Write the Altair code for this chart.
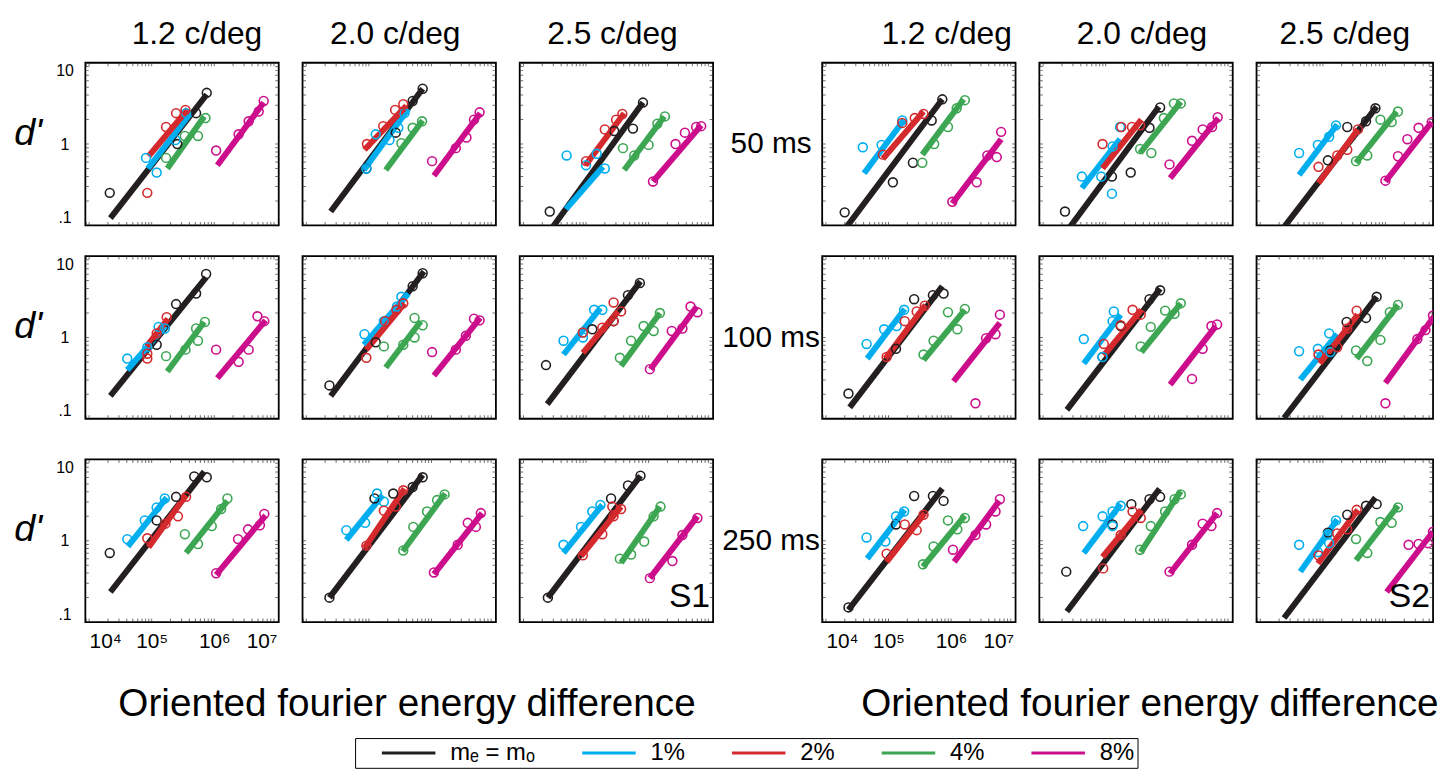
import altair as alt
import pandas as pd

FONT = "Liberation Sans, Arial, Helvetica, sans-serif"

SERIES = ["mₑ = mₒ", "1%", "2%", "4%", "8%"]
SERIES_KEYS = ["k", "c", "r", "g", "m"]
COLORS = ["#231f20", "#00aeef", "#d42a2e", "#3da653", "#cc0e8c"]
SUBJECTS = ["S1", "S2"]
DURATIONS = ["50 ms", "100 ms", "250 ms"]
FREQUENCIES = ["1.2 c/deg", "2.0 c/deg", "2.5 c/deg"]
X_TICKS = [1e4, 1e5, 1e6, 1e7]
X_TICK_LABELS = ["10⁴", "10⁵", "10⁶", "10⁷"]
Y_TICKS = [0.1, 1, 10]
Y_TICK_LABELS = [".1", "1", "10"]
X_TITLE = "Oriented fourier energy difference"
Y_TITLE = "d'"
# minor tick marks along the frame (mantissas 1..9 of each decade)
X_MINOR = [k * 10 ** d for d in (3, 4, 5, 6) for k in range(1, 10)]
Y_MINOR = [k * 10 ** d for d in (-1, 0) for k in range(1, 10)] + [10]

# values in log10 units: points [(log10 energy, log10 d')], fit line (x0, y0, x1, y1)
S1_50_12 = {
    "k": ([(4.33, -0.60), (5.41, 0.00), (5.71, 0.38), (5.88, 0.63)], (4.34, -0.91, 5.88, 0.61)),
    "c": ([(4.91, -0.17), (5.08, -0.35), (5.38, 0.05), (5.55, 0.38)], (4.94, -0.30, 5.62, 0.38)),
    "r": ([(4.93, -0.60), (5.23, 0.21), (5.39, 0.38), (5.54, 0.42)], (4.95, -0.15, 5.58, 0.43)),
    "g": ([(5.23, -0.17), (5.53, 0.10), (5.74, 0.10), (5.86, 0.32)], (5.25, -0.30, 5.84, 0.34)),
    "m": ([(6.03, -0.08), (6.39, 0.12), (6.55, 0.28), (6.71, 0.40), (6.79, 0.53)], (6.05, -0.26, 6.79, 0.51)),
}
S1_50_20 = {
    "k": ([(4.96, -0.30), (5.43, 0.14), (5.70, 0.53), (5.86, 0.68)], (4.39, -0.83, 5.86, 0.68)),
    "c": ([(4.96, -0.30), (5.11, 0.12), (5.33, 0.05), (5.47, 0.20), (5.57, 0.38)], (4.92, -0.32, 5.63, 0.43)),
    "r": ([(4.97, 0.00), (5.23, 0.22), (5.42, 0.42), (5.55, 0.49)], (4.93, -0.07, 5.60, 0.47)),
    "g": ([(5.52, 0.01), (5.70, 0.20), (5.85, 0.28)], (5.27, -0.32, 5.86, 0.29)),
    "m": ([(6.01, -0.21), (6.39, -0.05), (6.56, 0.08), (6.68, 0.30), (6.77, 0.39)], (6.04, -0.39, 6.78, 0.38)),
}
S1_50_25 = {
    "k": ([(4.42, -0.83), (5.45, 0.16), (5.75, 0.19), (5.91, 0.51)], (4.44, -1.05, 5.91, 0.51)),
    "c": ([(4.69, -0.14), (5.00, -0.26), (5.17, -0.12), (5.30, -0.30)], (4.68, -0.80, 5.27, -0.28)),
    "r": ([(5.00, -0.21), (5.30, 0.18), (5.48, 0.30), (5.58, 0.37)], (4.99, -0.26, 5.61, 0.38)),
    "g": ([(5.59, -0.05), (5.77, -0.14), (6.00, -0.01), (6.14, 0.25), (6.26, 0.34)], (5.61, -0.32, 6.25, 0.34)),
    "m": ([(6.07, -0.46), (6.43, 0.00), (6.58, 0.14), (6.76, 0.21), (6.84, 0.22)], (6.07, -0.46, 6.84, 0.23)),
}
S1_100_12 = {
    "k": ([(5.08, -0.09), (5.39, 0.41), (5.71, 0.54), (5.87, 0.78)], (4.34, -0.72, 5.87, 0.74)),
    "c": ([(4.61, -0.26), (4.93, -0.12), (5.11, 0.13), (5.21, 0.11)], (4.61, -0.40, 5.22, 0.14)),
    "r": ([(4.93, -0.20), (4.93, -0.26), (5.08, 0.05), (5.24, 0.25)], (4.92, -0.11, 5.26, 0.23)),
    "g": ([(5.23, -0.23), (5.54, -0.15), (5.71, 0.11), (5.74, -0.04), (5.85, 0.19)], (5.25, -0.42, 5.84, 0.19)),
    "m": ([(6.03, -0.15), (6.39, -0.30), (6.55, -0.15), (6.69, 0.26), (6.80, 0.20)], (6.05, -0.50, 6.82, 0.21)),
}
S1_100_20 = {
    "k": ([(4.37, -0.59), (5.11, -0.06), (5.70, 0.63), (5.86, 0.79)], (4.39, -0.72, 5.88, 0.81)),
    "c": ([(4.93, 0.04), (5.24, 0.20), (5.45, 0.38), (5.52, 0.50)], (4.92, -0.09, 5.63, 0.54)),
    "r": ([(4.96, -0.25), (5.26, 0.20), (5.44, 0.34), (5.55, 0.42)], (4.96, -0.15, 5.57, 0.42)),
    "g": ([(5.24, -0.11), (5.55, -0.09), (5.73, 0.00), (5.73, 0.24), (5.86, 0.15)], (5.27, -0.37, 5.83, 0.20)),
    "m": ([(6.01, -0.18), (6.39, -0.15), (6.55, 0.02), (6.68, 0.23), (6.77, 0.21)], (6.04, -0.47, 6.78, 0.24)),
}
S1_100_25 = {
    "k": ([(4.36, -0.34), (5.10, 0.10), (5.44, 0.20), (5.67, 0.52), (5.86, 0.67)], (4.38, -0.82, 5.87, 0.69)),
    "c": ([(4.64, -0.04), (4.95, 0.06), (4.95, 0.00), (5.13, 0.34), (5.26, 0.34)], (4.64, -0.21, 5.23, 0.36)),
    "r": ([(4.95, 0.06), (5.26, 0.12), (5.44, 0.20), (5.44, 0.43), (5.56, 0.32)], (4.95, -0.19, 5.51, 0.32)),
    "g": ([(5.54, -0.25), (5.72, -0.04), (5.92, 0.14), (6.08, 0.08), (6.18, 0.30)], (5.56, -0.35, 6.18, 0.30)),
    "m": ([(6.02, -0.39), (6.37, 0.08), (6.54, 0.11), (6.67, 0.38), (6.78, 0.31)], (6.03, -0.39, 6.77, 0.38)),
}
S1_250_12 = {
    "k": ([(4.33, -0.15), (5.08, 0.25), (5.39, 0.54), (5.68, 0.79), (5.88, 0.78)], (4.34, -0.63, 5.84, 0.85)),
    "c": ([(4.61, 0.02), (4.89, 0.25), (5.08, 0.41), (5.21, 0.52)], (4.62, -0.07, 5.24, 0.53)),
    "r": ([(4.93, 0.03), (5.22, 0.21), (5.42, 0.30), (5.55, 0.54)], (4.95, -0.08, 5.55, 0.56)),
    "g": ([(5.53, 0.08), (5.74, -0.04), (5.96, 0.18), (6.11, 0.39), (6.21, 0.52)], (5.55, -0.15, 6.21, 0.49)),
    "m": ([(6.03, -0.40), (6.38, 0.02), (6.54, 0.14), (6.73, 0.19), (6.80, 0.33)], (6.03, -0.42, 6.82, 0.31)),
}
S1_250_20 = {
    "k": ([(4.37, -0.70), (5.09, 0.52), (5.39, 0.58), (5.70, 0.66), (5.86, 0.78)], (4.37, -0.70, 5.86, 0.81)),
    "c": ([(4.64, 0.13), (4.94, 0.22), (5.13, 0.58), (5.24, 0.48)], (4.64, 0.01, 5.22, 0.56)),
    "r": ([(4.96, -0.06), (5.24, 0.37), (5.43, 0.42), (5.55, 0.62)], (4.93, -0.09, 5.57, 0.64)),
    "g": ([(5.55, -0.12), (5.71, 0.17), (5.93, 0.36), (6.09, 0.50), (6.21, 0.57)], (5.54, -0.13, 6.22, 0.58)),
    "m": ([(6.04, -0.39), (6.42, -0.05), (6.58, 0.22), (6.71, 0.17), (6.79, 0.34)], (6.04, -0.41, 6.81, 0.34)),
}
S1_250_25 = {
    "k": ([(4.39, -0.70), (5.40, 0.52), (5.67, 0.68), (5.87, 0.80)], (4.39, -0.70, 5.87, 0.80)),
    "c": ([(4.64, -0.05), (4.92, 0.17), (5.10, 0.36), (5.23, 0.44)], (4.64, -0.15, 5.26, 0.44)),
    "r": ([(4.95, -0.18), (5.26, 0.08), (5.44, 0.30), (5.42, 0.42), (5.56, 0.39)], (4.92, -0.19, 5.56, 0.42)),
    "g": ([(5.54, -0.22), (5.72, -0.17), (5.93, -0.01), (6.08, 0.30), (6.19, 0.42)], (5.56, -0.27, 6.18, 0.42)),
    "m": ([(6.02, -0.46), (6.38, -0.25), (6.54, 0.07), (6.78, 0.28)], (6.02, -0.46, 6.78, 0.30)),
}
S2_50_12 = {
    "k": ([(4.30, -0.84), (5.07, -0.47), (5.39, -0.23), (5.69, 0.29), (5.86, 0.55)], (4.30, -1.05, 5.86, 0.55)),
    "c": ([(4.59, -0.04), (4.89, -0.01), (5.22, 0.29)], (4.61, -0.36, 5.25, 0.30)),
    "r": ([(4.91, -0.13), (5.22, 0.26), (5.42, 0.32), (5.56, 0.37)], (4.91, -0.18, 5.56, 0.40)),
    "g": ([(5.54, -0.23), (5.73, 0.00), (5.95, 0.21), (6.09, 0.44), (6.22, 0.54)], (5.54, -0.13, 6.20, 0.55)),
    "m": ([(6.02, -0.71), (6.41, -0.47), (6.58, -0.14), (6.73, -0.16), (6.80, 0.15)], (6.02, -0.73, 6.80, 0.06)),
}
S2_50_20 = {
    "k": ([(4.35, -0.83), (5.10, -0.40), (5.40, -0.35), (5.70, 0.20), (5.87, 0.45)], (4.40, -1.05, 5.85, 0.46)),
    "c": ([(4.62, -0.40), (4.93, -0.40), (5.10, -0.61), (5.11, -0.03), (5.23, 0.21)], (4.62, -0.54, 5.23, 0.06)),
    "r": ([(4.95, 0.00), (5.25, 0.21), (5.42, 0.21), (5.55, 0.23)], (4.95, -0.30, 5.57, 0.30)),
    "g": ([(5.55, -0.06), (5.73, -0.11), (5.93, 0.32), (6.09, 0.50), (6.20, 0.50)], (5.55, -0.11, 6.20, 0.52)),
    "m": ([(6.02, -0.25), (6.38, 0.04), (6.55, 0.18), (6.70, 0.21), (6.79, 0.33)], (6.03, -0.42, 6.80, 0.32)),
}
S2_50_25 = {
    "k": ([(5.08, -0.20), (5.39, 0.21), (5.69, 0.28), (5.84, 0.44)], (4.35, -1.05, 5.86, 0.46)),
    "c": ([(4.62, -0.11), (4.92, -0.01), (5.10, 0.09), (5.21, 0.23)], (4.62, -0.38, 5.23, 0.24)),
    "r": ([(4.93, -0.28), (5.23, -0.14), (5.39, -0.07), (5.56, 0.18)], (4.93, -0.48, 5.56, 0.18)),
    "g": ([(5.53, -0.21), (5.71, -0.14), (5.92, 0.30), (6.10, 0.27), (6.20, 0.40)], (5.53, -0.23, 6.18, 0.40)),
    "m": ([(6.00, -0.45), (6.20, -0.15), (6.35, 0.06), (6.53, 0.20), (6.74, 0.27)], (6.00, -0.46, 6.74, 0.27)),
}
S2_100_12 = {
    "k": ([(4.36, -0.69), (5.12, -0.14), (5.41, 0.47), (5.71, 0.52), (5.88, 0.54)], (4.38, -0.86, 5.86, 0.63)),
    "c": ([(4.65, -0.08), (4.93, 0.10), (5.13, 0.14), (5.25, 0.34)], (4.66, -0.26, 5.26, 0.35)),
    "r": ([(4.97, -0.24), (5.26, 0.20), (5.45, 0.32), (5.58, 0.39)], (4.95, -0.26, 5.59, 0.40)),
    "g": ([(5.56, -0.21), (5.72, -0.04), (5.95, 0.31), (6.10, 0.10), (6.22, 0.35)], (5.56, -0.28, 6.22, 0.34)),
    "m": ([(6.39, -0.81), (6.56, -0.01), (6.71, 0.04), (6.78, 0.28)], (6.04, -0.54, 6.78, 0.18)),
}
S2_100_20 = {
    "k": ([(4.95, -0.24), (5.24, 0.14), (5.70, 0.47), (5.87, 0.58)], (4.38, -0.89, 5.87, 0.60)),
    "c": ([(4.65, -0.02), (4.95, -0.24), (5.11, 0.20), (5.13, 0.32)], (4.65, -0.32, 5.24, 0.28)),
    "r": ([(4.97, -0.08), (5.24, 0.15), (5.43, 0.34), (5.56, 0.28)], (4.97, -0.22, 5.57, 0.34)),
    "g": ([(5.56, -0.11), (5.72, 0.13), (5.95, 0.33), (6.10, 0.29), (6.20, 0.42)], (5.57, -0.18, 6.20, 0.42)),
    "m": ([(6.38, -0.51), (6.55, -0.14), (6.69, 0.14), (6.78, 0.16)], (6.03, -0.58, 6.76, 0.14)),
}
S2_100_25 = {
    "k": ([(5.12, -0.16), (5.38, 0.19), (5.69, 0.24), (5.86, 0.50)], (4.38, -0.99, 5.86, 0.50)),
    "c": ([(4.62, -0.17), (4.92, -0.14), (5.10, 0.05), (5.12, -0.18)], (4.64, -0.52, 5.23, 0.04)),
    "r": ([(4.93, -0.21), (5.23, -0.12), (5.39, 0.11), (5.54, 0.33)], (4.95, -0.32, 5.56, 0.28)),
    "g": ([(5.53, -0.16), (5.71, -0.29), (5.92, -0.03), (6.07, 0.31), (6.20, 0.40)], (5.54, -0.26, 6.20, 0.40)),
    "m": ([(6.00, -0.81), (6.51, -0.02), (6.64, 0.09), (6.76, 0.27)], (6.00, -0.56, 6.78, 0.26)),
}
S2_250_12 = {
    "k": ([(4.36, -0.82), (5.12, 0.20), (5.41, 0.55), (5.71, 0.55), (5.88, 0.49)], (4.36, -0.85, 5.86, 0.64)),
    "c": ([(4.65, 0.04), (4.95, -0.01), (5.12, 0.30), (5.25, 0.36)], (4.66, -0.22, 5.26, 0.38)),
    "r": ([(4.97, -0.16), (5.26, 0.20), (5.45, 0.13), (5.56, 0.32)], (4.97, -0.26, 5.58, 0.34)),
    "g": ([(5.55, -0.29), (5.72, -0.07), (5.95, 0.25), (6.10, 0.14), (6.22, 0.28)], (5.55, -0.32, 6.22, 0.31)),
    "m": ([(6.03, -0.11), (6.39, 0.07), (6.56, 0.20), (6.71, 0.36), (6.78, 0.51)], (6.05, -0.26, 6.77, 0.49)),
}
S2_250_20 = {
    "k": ([(4.37, -0.38), (5.11, 0.20), (5.41, 0.45), (5.70, 0.51), (5.87, 0.54)], (4.38, -0.87, 5.86, 0.64)),
    "c": ([(4.64, 0.18), (4.95, 0.30), (5.11, 0.36), (5.24, 0.43), (5.11, 0.18)], (4.65, -0.15, 5.24, 0.45)),
    "r": ([(4.96, -0.34), (5.24, 0.07), (5.43, 0.36), (5.56, 0.28)], (4.95, -0.20, 5.57, 0.38)),
    "g": ([(5.55, -0.11), (5.72, 0.18), (5.95, 0.36), (6.10, 0.51), (6.20, 0.57)], (5.56, -0.14, 6.20, 0.61)),
    "m": ([(6.02, -0.38), (6.38, -0.05), (6.55, 0.21), (6.69, 0.18), (6.78, 0.34)], (6.03, -0.40, 6.78, 0.34)),
}
S2_250_25 = {
    "k": ([(5.08, 0.10), (5.39, 0.32), (5.69, 0.43), (5.86, 0.45)], (4.38, -0.95, 5.84, 0.53)),
    "c": ([(4.62, -0.05), (4.92, -0.14), (5.10, -0.03), (5.21, 0.25), (5.08, 0.08)], (4.64, -0.38, 5.23, 0.26)),
    "r": ([(4.93, -0.18), (5.23, 0.09), (5.39, 0.14), (5.54, 0.38)], (4.92, -0.28, 5.56, 0.38)),
    "g": ([(5.53, 0.02), (5.71, -0.15), (5.92, 0.23), (6.10, 0.22), (6.20, 0.41)], (5.53, -0.24, 6.20, 0.43)),
    "m": ([(6.37, -0.05), (6.53, -0.04), (6.68, -0.03), (6.76, 0.11)], (6.02, -0.63, 6.76, 0.11)),
}

PANELS = {
    "S1": [[S1_50_12, S1_50_20, S1_50_25],
           [S1_100_12, S1_100_20, S1_100_25],
           [S1_250_12, S1_250_20, S1_250_25]],
    "S2": [[S2_50_12, S2_50_20, S2_50_25],
           [S2_100_12, S2_100_20, S2_100_25],
           [S2_250_12, S2_250_20, S2_250_25]],
}

# layout constants
PANEL_W = 195
CUT_W = 178
PANEL_H = 164
X_LOG_MIN = 3.94
PX_PER_DECADE = 63.1
TITLE_DX = {"S1": [15, -4, -4], "S2": [28, 6, 0]}

LEGEND = alt.Legend(
    title=None, orient="none", legendX=272, legendY=681, direction="horizontal",
    columns=5, symbolType="M-4,0H4", symbolSize=182, symbolStrokeWidth=3,
    symbolOffset=39, labelOffset=30, columnPadding=23, labelFontSize=24,
    labelFont=FONT, labelColor="black", padding=3, strokeColor="black",
)


def label_expr(ticks, labels):
    parts = []
    for i in range(len(ticks) - 1):
        thr = (ticks[i] * ticks[i + 1]) ** 0.5
        parts.append(f"datum.value < {thr:g} ? '{labels[i]}' : ")
    return "".join(parts) + f"'{labels[-1]}'"


def panel_frame(subject, r, c):
    data = PANELS[subject][r][c]
    rows = []
    for key, name in zip(SERIES_KEYS, SERIES):
        pts, fit = data[key]
        for lx, ly in pts:
            rows.append({"series": name, "kind": "pt", "x": 10 ** lx, "y": 10 ** ly})
        rows.append({"series": name, "kind": "fit", "x": 10 ** fit[0], "y": 10 ** fit[1]})
        rows.append({"series": name, "kind": "fit", "x": 10 ** fit[2], "y": 10 ** fit[3]})
    return pd.DataFrame(rows)


def make_panel(subject, r, c):
    df = panel_frame(subject, r, c)
    w = CUT_W if (subject == "S2" and c == 2) else PANEL_W
    xmin = 10 ** X_LOG_MIN
    xmax = 10 ** (X_LOG_MIN + w / PX_PER_DECADE)
    xs = alt.Scale(type="log", domain=[xmin, xmax], nice=False)
    ys = alt.Scale(type="log", domain=[0.1, 10], nice=False)

    if r == 2 and c == 0:
        xaxis = alt.Axis(values=X_TICKS, labelExpr=label_expr(X_TICKS, X_TICK_LABELS),
                         title=None, ticks=False, domain=False, grid=False,
                         labelFontSize=21, labelFont=FONT, labelPadding=9,
                         labelColor="black", labelFlush=8, labelOverlap=False)
    else:
        xaxis = None

    if c == 0 and subject == "S1":
        yaxis = alt.Axis(values=Y_TICKS, labelExpr=label_expr(Y_TICKS, Y_TICK_LABELS),
                         title=Y_TITLE, titleAngle=0, titleAlign="right",
                         titleBaseline="alphabetic", titleFontSize=38,
                         titleFontStyle="italic", titleFontWeight="normal",
                         titleFont=FONT, titlePadding=14, titleColor="black",
                         labelFontSize=16, labelFont=FONT, labelPadding=21,
                         labelAlign="center", labelColor="black",
                         ticks=False, domain=False, grid=False,
                         labelFlush=True, labelOverlap=False)
    elif c == 0:
        yaxis = alt.Axis(labels=False, ticks=False, domain=False, grid=False,
                         title=DURATIONS[r], titleAngle=0, titleAlign="center",
                         titleBaseline="middle", titleFontSize=30,
                         titleFontWeight="normal", titleFont=FONT,
                         titlePadding=52, titleColor="black")
    else:
        yaxis = None

    X = alt.X("x:Q", scale=xs, axis=xaxis)
    Y = alt.Y("y:Q", scale=ys, axis=yaxis)
    color = alt.Color("series:N", scale=alt.Scale(domain=SERIES, range=COLORS), legend=LEGEND)

    base = alt.Chart(df)
    lines = base.transform_filter(alt.datum.kind == "fit").mark_line(
        strokeWidth=6, strokeCap="butt", clip=True
    ).encode(x=X, y=Y, color=color)
    pts = base.transform_filter(alt.datum.kind == "pt").mark_point(
        shape="circle", filled=False, size=80, strokeWidth=1.6, opacity=1, clip=True
    ).encode(x=X, y=Y, color=color)

    xt = pd.DataFrame({"x": [v for v in X_MINOR if xmin < v < xmax]})
    yt = pd.DataFrame({"y": [v for v in Y_MINOR if 0.1 < v < 10]})
    tick_style = dict(thickness=1, size=7, color="#333333", clip=True)
    xticks_bottom = alt.Chart(xt).mark_tick(orient="vertical", **tick_style).encode(
        x=X, y=alt.value(PANEL_H))
    xticks_top = alt.Chart(xt).mark_tick(orient="vertical", **tick_style).encode(
        x=X, y=alt.value(0))
    yticks_left = alt.Chart(yt).mark_tick(orient="horizontal", **tick_style).encode(
        y=Y, x=alt.value(0))
    yticks_right = alt.Chart(yt).mark_tick(orient="horizontal", **tick_style).encode(
        y=Y, x=alt.value(w))

    layers = [lines, pts, xticks_bottom, xticks_top, yticks_left, yticks_right]
    if r == 2 and c == 2:
        lab = alt.Chart(pd.DataFrame({"t": [subject]})).mark_text(
            align="right", baseline="alphabetic", fontSize=34, font=FONT, color="black"
        ).encode(text="t:N", x=alt.value(w - 3), y=alt.value(PANEL_H - 15))
        layers.append(lab)

    props = {"width": w, "height": PANEL_H}
    if r == 0:
        props["title"] = alt.TitleParams(
            FREQUENCIES[c], fontSize=32, font=FONT, fontWeight="normal",
            anchor="middle", frame="group", offset=12, dx=TITLE_DX[subject][c],
            color="black")
    return alt.layer(*layers).properties(**props)


def block(subject, dx):
    rows = [alt.hconcat(*[make_panel(subject, r, c) for c in range(3)],
                        spacing=24, bounds="flush")
            for r in range(3)]
    top = alt.vconcat(rows[0], rows[1], spacing=29)
    return alt.vconcat(
        top, rows[2], spacing=39,
        title=alt.TitleParams(X_TITLE, orient="bottom", anchor="middle", fontSize=39,
                              font=FONT, fontWeight="normal", offset=33, dx=dx,
                              color="black"))


chart = alt.hconcat(block("S1", 44), block("S2", 73), spacing=6).properties(
    padding={"left": 4, "top": 6, "right": 0, "bottom": 0},
    background="white",
).configure_view(stroke="black", strokeWidth=1.8)

chart.save("out.html", embed_options={"renderer": "svg", "actions": False})
